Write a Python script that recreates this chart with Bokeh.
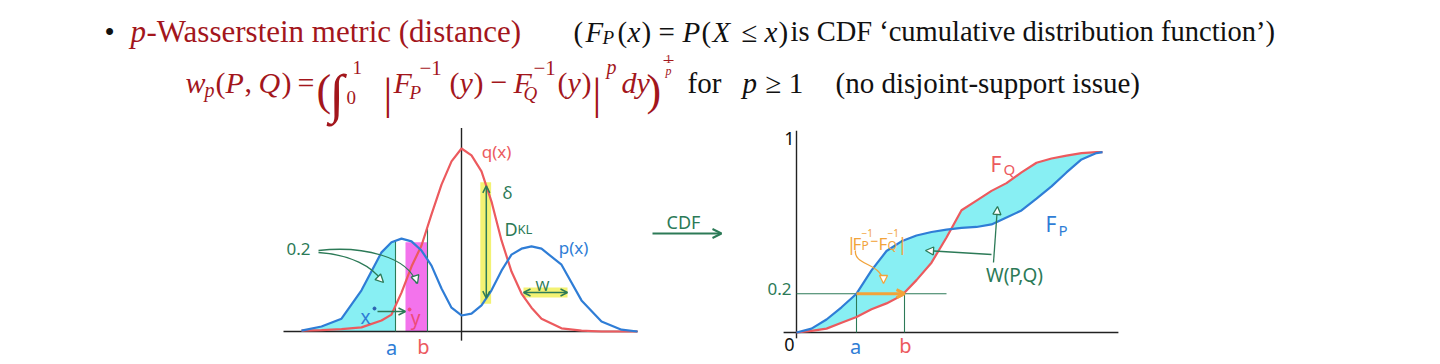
import numpy as np
from bokeh.plotting import figure
from bokeh.models import Range1d, Arrow, OpenHead, NormalHead
from bokeh.core.properties import value
from bokeh.embed import file_html
from bokeh.resources import INLINE

# ---------------- data: left panel (densities p(x), q(x)) ----------------
dens_x = [-4.0, -3.5, -3.0, -2.5, -2.0, -1.75, -1.5, -1.25, -1.0, -0.75, -0.5, -0.25,
          0.0, 0.25, 0.5, 0.75, 1.0, 1.25, 1.5, 1.75, 2.0, 2.5, 3.0, 3.5, 4.0, 4.4]
dens_p = [0.002, 0.011, 0.028, 0.09, 0.173, 0.195, 0.203, 0.197, 0.177, 0.144, 0.094, 0.052,
          0.035, 0.039, 0.057, 0.09, 0.133, 0.168, 0.181, 0.186, 0.181, 0.146, 0.068, 0.022, 0.004, 0.0]
dens_q = [0.002, 0.003, 0.005, 0.009, 0.024, 0.037, 0.085, 0.142, 0.188, 0.256, 0.321, 0.372,
          0.40, 0.385, 0.35, 0.284, 0.199, 0.131, 0.083, 0.052, 0.028, 0.007, 0.002, 0.0, 0.0, 0.0]
a_L, b_L = -1.65, -0.85
pink_left, pink_top = -1.4, 0.195
kl_x = 0.62

# ---------------- data: right panel (CDFs F_P, F_Q) ----------------
cdf_x = [0, 0.5, 1, 1.5, 2, 2.5, 3, 3.5, 4, 4.5, 5, 5.5, 6, 6.5, 7, 7.5, 8, 8.5, 9, 9.5, 10, 10.2]
cdf_P = [0.0, 0.02, 0.067, 0.13, 0.2, 0.32, 0.42, 0.47, 0.5, 0.518, 0.53, 0.539,
         0.544, 0.557, 0.593, 0.629, 0.69, 0.753, 0.825, 0.892, 0.925, 0.93]
cdf_Q = [0.0, 0.008, 0.02, 0.05, 0.08, 0.12, 0.15, 0.19, 0.27, 0.36, 0.49, 0.63,
         0.68, 0.73, 0.77, 0.825, 0.875, 0.897, 0.912, 0.925, 0.93, 0.93]
a_R, b_R = 2.0, 3.6
level_R = 0.2
level_R_end = 5.0

# ---------------- styles ----------------
RC = "#ec5a5e"; BC = "#2f7dd6"; CYAN = "#88eff3"; PINK = "#f373ec"
GREEN = "#2c7a57"; YEL = "#f1f05a"; ORANGE = "#f2a33a"; TRED = "#a3161c"; K = "#111111"
HAND = "Noto Sans"; SERIF = "Liberation Serif"

W, H = 1440, 364
p = figure(width=W, height=H, x_range=Range1d(0, W), y_range=Range1d(H, 0),
           x_axis_type=None, y_axis_type=None, output_backend="svg",
           toolbar_location=None, min_border=0)
p.outline_line_color = None
p.background_fill_color = "white"
p.border_fill_color = "white"

# panel placements (pixel origin and pixels per unit)
PL = dict(px0=461, py0=331, sx=40.0, sy=457.5)
PR = dict(px0=796, py0=332, sx=30.0, sy=194.0)


def rng(c):
    return (Range1d((0 - c['px0']) / c['sx'], (W - c['px0']) / c['sx']),
            Range1d((c['py0'] - H) / c['sy'], (c['py0'] - 0) / c['sy']))


lx, ly = rng(PL)
rx, ry = rng(PR)
p.extra_x_ranges = {"L": lx, "R": rx}
p.extra_y_ranges = {"L": ly, "R": ry}
KL = dict(x_range_name="L", y_range_name="L")
KR = dict(x_range_name="R", y_range_name="R")


def T(x, y, s, size, color=K, style="normal", font=SERIF, align="left",
      baseline="alphabetic", **extra):
    p.text(x=[x], y=[y], text=[s], text_font=value(font),
           text_font_size=value(f"{size}px"), text_font_style=value(style),
           text_color=color, text_align=value(align), text_baseline=value(baseline), **extra)


def head(kind, color, size, lw):
    if kind == "open":
        return OpenHead(size=size, line_color=color, line_width=lw)
    return NormalHead(size=size, line_color=color, line_width=lw, fill_color="white")


def arrow(x0, y0, x1, y1, color, lw=1.5, kind="open", size=8, both=False, rn=None):
    kw = dict(x_range_name=rn, y_range_name=rn) if rn else {}
    p.add_layout(Arrow(x_start=x0, y_start=y0, x_end=x1, y_end=y1, line_color=color,
                       line_width=lw, end=head(kind, color, size, lw),
                       start=head(kind, color, size, lw) if both else None, **kw))


# ================= header text =================
T(104, 31, "•", 29)
T(130, 31, "p", 31, TRED, "italic")
T(146, 31, "-Wasserstein metric (distance)", 31, TRED)
T(573, 31, "(", 29); T(585, 31, "F", 29, style="italic"); T(602, 37, "P", 19, style="italic")
T(617, 31, "(", 29); T(627, 31, "x", 29, style="italic"); T(641, 31, ")", 29)
T(658, 31, "=", 29); T(682, 31, "P", 29, style="italic"); T(701, 31, "(", 29)
T(712, 31, "X", 29, style="italic"); T(741, 31, "≤", 29); T(764, 31, "x", 29, style="italic")
T(778, 31, ")", 29)
T(790, 31, "is CDF ‘cumulative distribution function’)", 28.5)

T(185, 82, "w", 30, TRED, "italic"); T(204, 89, "p", 20, TRED, "italic")
T(215, 82, "(", 30, TRED); T(225, 82, "P", 30, TRED, "italic"); T(244, 82, ",", 30, TRED)
T(258, 82, "Q", 30, TRED, "italic"); T(281, 82, ")", 30, TRED); T(297, 82, "=", 30, TRED)
T(316, 90, "(", 44, TRED)
T(329, 93, "∫", 54, TRED)
T(346, 97, "0", 19, TRED); T(352, 67, "1", 19, TRED)
T(383, 94, "|", 44, TRED)
T(393, 82, "F", 30, TRED, "italic"); T(409, 92, "P", 19, TRED, "italic"); T(419, 67, "−1", 21, TRED)
T(449, 82, "(", 30, TRED); T(459, 82, "y", 30, TRED, "italic"); T(473, 82, ")", 30, TRED)
T(490, 82, "−", 30, TRED)
T(513, 82, "F", 30, TRED, "italic"); T(523, 93, "Q", 19, TRED, "italic"); T(533, 67, "−1", 21, TRED)
T(557, 82, "(", 30, TRED); T(567, 82, "y", 30, TRED, "italic"); T(581, 82, ")", 30, TRED)
T(592, 94, "|", 44, TRED)
T(606, 66, "p", 20, TRED, "italic")
T(621, 82, "dy", 30, TRED, "italic")
T(646, 90, ")", 44, TRED)
T(668, 58, "1", 12, TRED, align="center")
p.segment(x0=[663], y0=[60], x1=[673], y1=[60], line_color=TRED, line_width=1)
T(668, 70, "p", 12, TRED, "italic", align="center")
T(687, 82, "for", 29); T(742, 82, "p", 29, style="italic"); T(765, 82, "≥ 1", 29)
T(835, 82, "(no disjoint-support issue)", 29)

# ================= left panel: densities =================
xd = np.array(dens_x); pdn = np.array(dens_p); qdn = np.array(dens_q)
m = xd < a_L
cx = np.append(xd[m], a_L)
cy = np.append(pdn[m], np.interp(a_L, xd, pdn))
p.varea(x=cx, y1=np.zeros_like(cx), y2=cy, fill_color=CYAN, **KL)
p.quad(left=[pink_left], right=[b_L], bottom=[0], top=[pink_top], fill_color=PINK,
       line_color=None, **KL)

pk = float(np.interp(kl_x, xd, pdn)); qk = float(np.interp(kl_x, xd, qdn))
p.quad(left=[kl_x - 0.15], right=[kl_x + 0.12], bottom=[pk - 0.012], top=[qk + 0.008],
       fill_color=YEL, fill_alpha=0.85, line_color=None, **KL)
# W highlight (pixel units)
p.quad(left=[523], right=[567], top=[287], bottom=[297], fill_color=YEL, fill_alpha=0.85,
       line_color=None)

# axes
p.segment(x0=[-4.45, 0], y0=[0, -0.02], x1=[4.4, 0], y1=[0, 0.445], line_color="#222",
          line_width=1.4, **KL)
# a / b markers
p.segment(x0=[a_L, b_L], y0=[0, 0],
          x1=[a_L, b_L], y1=[float(np.interp(a_L, xd, pdn)), float(np.interp(b_L, xd, qdn)) - 0.005],
          line_color=GREEN, line_width=1.1, **KL)

p.line(xd, qdn, line_color=RC, line_width=2.2, **KL)
p.line(xd, pdn, line_color=BC, line_width=2.2, **KL)

arrow(kl_x, pk, kl_x, qk, GREEN, lw=1.5, size=7, both=True, rn="L")
arrow(523, 292, 567, 292, GREEN, lw=1.5, size=7, both=True)

T(496, 151, "q(x)", 17, RC, font=HAND, align="center", baseline="middle")
T(573, 247, "p(x)", 17, BC, font=HAND, align="center", baseline="middle")
T(298, 248, "0.2", 17, GREEN, font=HAND, align="center", baseline="middle")
T(507, 192, "δ", 17, GREEN, font=HAND, align="center", baseline="middle")
T(504, 228, "D", 18, GREEN, font=HAND, baseline="alphabetic")
T(517, 228, "KL", 13, GREEN, font=HAND, baseline="alphabetic")
T(542, 284, "W", 15, GREEN, font=HAND, align="center", baseline="alphabetic")
T(365, 316, "x", 19, BC, font=HAND, align="center", baseline="middle")
T(415, 317, "y", 19, "#ee4a7a", font=HAND, align="center", baseline="middle")
p.scatter(x=[374, 409], y=[308, 309], size=3, color=["#2a5fb0", "#ee4a7a"])
arrow(377, 311, 405, 311, GREEN, lw=1.5, size=7)
T(a_L, 347, "a", 20, BC, font=HAND, align="center", baseline="middle", x_offset=-4, x_range_name="L")
T(b_L, 346, "b", 20, RC, font=HAND, align="center", baseline="middle", x_offset=-4, x_range_name="L")

# curved pointers from "0.2"
p.bezier(x0=[318, 318], y0=[252, 250], x1=[382, 416], y1=[281, 283],
         cx0=[350, 362], cy0=[254, 245], cx1=[372, 408], cy1=[266, 256],
         line_color=GREEN, line_width=1.3)
arrow(378, 277, 383, 282, GREEN, lw=1.3, kind="normal", size=8)
arrow(415, 277, 417, 283, GREEN, lw=1.3, kind="normal", size=8)

# ================= CDF arrow =================
T(683, 221, "CDF", 18, GREEN, font=HAND, align="center", baseline="middle")
arrow(652, 233, 721, 233, GREEN, lw=2, size=9)

# ================= right panel: CDFs =================
xc = np.array(cdf_x); Fp = np.array(cdf_P); Fq = np.array(cdf_Q)
p.varea(x=xc, y1=Fp, y2=Fq, fill_color=CYAN, **KR)
p.segment(x0=[-0.43, 0], y0=[0, -0.03], x1=[10.73, 0], y1=[0, 1.04], line_color="#222",
          line_width=1.4, **KR)
p.segment(x0=[0, a_R, b_R], y0=[level_R, 0, 0], x1=[level_R_end, a_R, b_R],
          y1=[level_R, level_R, level_R], line_color=GREEN, line_width=1.1, **KR)
p.line(xc, Fq, line_color=RC, line_width=2.2, **KR)
p.line(xc, Fp, line_color=BC, line_width=2.2, **KR)
arrow(a_R, level_R, b_R, level_R, ORANGE, lw=3, size=8, rn="R")

T(789, 138, "1", 18, K, font=HAND, align="center", baseline="middle")
T(789, 344, "0", 18, K, font=HAND, align="center", baseline="middle")
T(779, 288, "0.2", 17, GREEN, font=HAND, align="center", baseline="middle")
T(a_R, 346, "a", 20, BC, font=HAND, align="center", baseline="middle", x_offset=-1, x_range_name="R")
T(b_R, 345, "b", 20, RC, font=HAND, align="center", baseline="middle", x_offset=1, x_range_name="R")

T(990, 163, "F", 21, RC, font=HAND); T(1003, 168, "Q", 15, RC, font=HAND)
T(1045, 223, "F", 21, BC, font=HAND); T(1058, 229, "P", 15, BC, font=HAND)

# orange label |F_P^-1 - F_Q^-1|
T(846, 243, "|", 18, ORANGE, font=HAND); T(852, 243, "F", 17, ORANGE, font=HAND)
T(861, 245, "P", 12, ORANGE, font=HAND); T(861, 232, "−1", 10, ORANGE, font=HAND)
T(870, 240, "−", 14, ORANGE, font=HAND)
T(878, 243, "F", 17, ORANGE, font=HAND); T(887, 245, "Q", 12, ORANGE, font=HAND)
T(887, 232, "−1", 10, ORANGE, font=HAND); T(897, 243, "|", 18, ORANGE, font=HAND)
p.bezier(x0=[855], y0=[250], x1=[883], y1=[281], cx0=[853], cy0=[265], cx1=[880], cy1=[262],
         line_color=ORANGE, line_width=1.3)
arrow(883, 276, 883, 283, ORANGE, lw=1.3, kind="normal", size=8)

T(1014, 274, "W(P,Q)", 19, GREEN, font=HAND, align="center", baseline="middle")
arrow(991, 254, 925, 250, GREEN, lw=1.3, kind="normal", size=8)
arrow(993, 262, 997, 206, GREEN, lw=1.3, kind="normal", size=8)

open("out.html", "w").write(file_html(p, INLINE))
